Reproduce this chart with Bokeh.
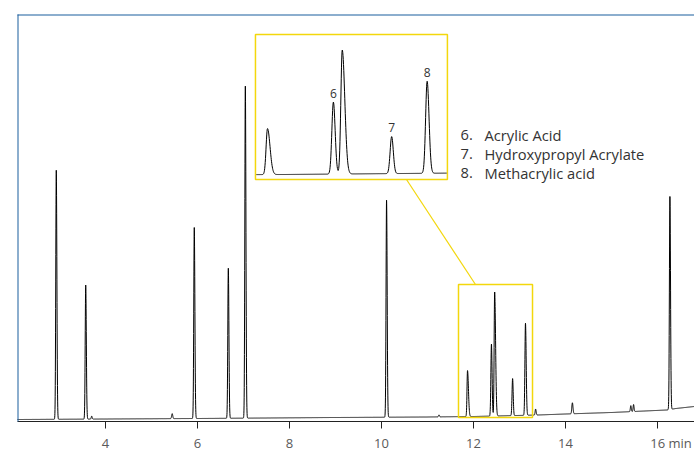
import numpy as np
from bokeh.plotting import figure
from bokeh.models import Range1d, FixedTicker, ColumnDataSource, Arrow
from bokeh.core.properties import value
from bokeh.embed import file_html
from bokeh.resources import INLINE

# ---------------- data ----------------
peak_times = [2.93, 3.57, 3.70, 5.45, 5.93, 6.67, 7.04, 10.11, 11.25, 11.87, 12.39, 12.46, 12.85, 13.13, 13.35, 14.15, 15.42, 15.48, 16.27]
peak_heights = [249, 134, 3, 5, 191, 150, 332, 217, 2, 46, 72, 124, 37, 92, 6, 11, 6, 7, 213]
peak_sigma_front = [0.011, 0.011, 0.01, 0.012, 0.011, 0.011, 0.011, 0.011, 0.01, 0.011, 0.012, 0.011, 0.012, 0.012, 0.01, 0.012, 0.01, 0.01, 0.011]
peak_sigma_tail = [0.013, 0.013, 0.01, 0.012, 0.013, 0.013, 0.013, 0.013, 0.01, 0.02, 0.014, 0.02, 0.013, 0.015, 0.012, 0.013, 0.01, 0.01, 0.013]

baseline_times = [2.10, 6.0, 9.0, 11.0, 12.0, 13.4, 14.0, 15.0, 16.2, 16.4, 16.9]
baseline_values = [2.0, 3.0, 4.0, 4.5, 5.0, 6.5, 7.5, 9.0, 11.5, 13.0, 15.5]

tick_values = [4, 6, 8, 10, 12, 14, 16]
tick_unit = "min"

label_ids = ["6", "7", "8"]
label_times = [12.39, 12.85, 13.13]
legend_numbers = ["6.", "7.", "8."]
legend_names = ["Acrylic Acid", "Hydroxypropyl Acrylate", "Methacrylic acid"]

# ---------------- build trace from peak table ----------------
t = np.arange(2.05, 16.90, 0.002)
signal = np.interp(t, baseline_times, baseline_values)
for tr, h, sf, st in zip(peak_times, peak_heights, peak_sigma_front, peak_sigma_tail):
    s = np.where(t < tr, sf, st)
    signal = signal + h * np.exp(-0.5 * ((t - tr) / s) ** 2)

main_src = ColumnDataSource(dict(t=t, y=signal))
inset_mask = (t >= 11.78) & (t <= 13.285)
inset_src = ColumnDataSource(dict(t=t[inset_mask], y=signal[inset_mask]))

BLUE = "#1b5e9e"
YELLOW = "#f3d70c"
FONT = "Open Sans"

W, H = 694, 456
ML, MT = 17, 14
AXIS_Y = 421
MB = H - AXIS_Y
FW = W - ML
FH = AXIS_Y - MT
PX_PER_MIN = 46.0
x_start = 2 + (ML - 13) / PX_PER_MIN
x_end = x_start + FW / PX_PER_MIN

p = figure(width=W, height=H, output_backend="svg", toolbar_location=None,
           x_range=Range1d(x_start, x_end), y_range=Range1d(0, FH),
           min_border_left=ML, min_border_right=0, min_border_top=MT, min_border_bottom=MB)
p.outline_line_color = None
p.background_fill_color = "white"
p.border_fill_color = "white"
p.grid.visible = False
p.yaxis.visible = False

xa = p.xaxis[0]
xa.ticker = FixedTicker(ticks=tick_values)
xa.major_label_overrides = {tick_values[-1]: "\u00a0" * 8 + str(tick_values[-1]) + " " + tick_unit}
xa.minor_tick_line_color = None
xa.major_tick_in = 0
xa.major_tick_out = 7
xa.axis_line_color = "#222222"
xa.major_tick_line_color = "#222222"
xa.major_label_text_color = "#5a5a5a"
xa.major_label_text_font = FONT
xa.major_label_text_font_size = "13px"
xa.major_label_standoff = 5

# blue frame lines (top and left)
p.add_layout(Arrow(end=None, x_start=x_start, x_end=x_start, y_start=-80, y_end=FH + 1,
                   line_color=BLUE, line_width=2))
p.add_layout(Arrow(end=None, x_start=x_start - 0.03, x_end=x_end + 1, y_start=FH, y_end=FH,
                   line_color=BLUE, line_width=2))

# inset ranges: same vertical scale shifted up, horizontal expanded
inset_px_per_min = 126.7
x0 = 11.87 - (267 - ML) / inset_px_per_min
p.extra_x_ranges = {"inset": Range1d(x0, x0 + FW / inset_px_per_min)}
p.extra_y_ranges = {"inset": Range1d(-242, FH - 242)}

# main trace
p.line("t", "y", source=main_src, line_color="black", line_width=1)

# zoom box on main trace
p.quad(left=[11.674], right=[13.283], bottom=[4], top=[137], fill_color=None,
       line_color=YELLOW, line_width=1.5)
# connector
p.line(x=[10.543, 12.043], y=[242, 137], line_color=YELLOW, line_width=1.2)

# inset box
p.quad(left=[11.775], right=[13.29], bottom=[0], top=[145], fill_color="white",
       line_color=YELLOW, line_width=1.5, x_range_name="inset", y_range_name="inset")
p.line("t", "y", source=inset_src, line_color="black", line_width=1,
       x_range_name="inset", y_range_name="inset")

label_tops = [float(np.interp(lt, t, signal)) + 9 for lt in label_times]
p.text(x=label_times, y=label_tops, text=label_ids, text_font=value(FONT),
       text_font_size="12px", text_color="#333333", text_align="center",
       text_baseline="alphabetic", x_range_name="inset", y_range_name="inset")

# legend text
leg_y = [287, 268, 249]
p.text(x=[11.717] * 3, y=leg_y, text=legend_numbers, text_font=value(FONT),
       text_font_size="14.7px", text_color="#333333", text_align="left", text_baseline="alphabetic")
p.text(x=[12.239] * 3, y=leg_y, text=legend_names, text_font=value(FONT),
       text_font_size="14.7px", text_color="#333333", text_align="left", text_baseline="alphabetic")

open("out.html", "w").write(file_html(p, INLINE))
